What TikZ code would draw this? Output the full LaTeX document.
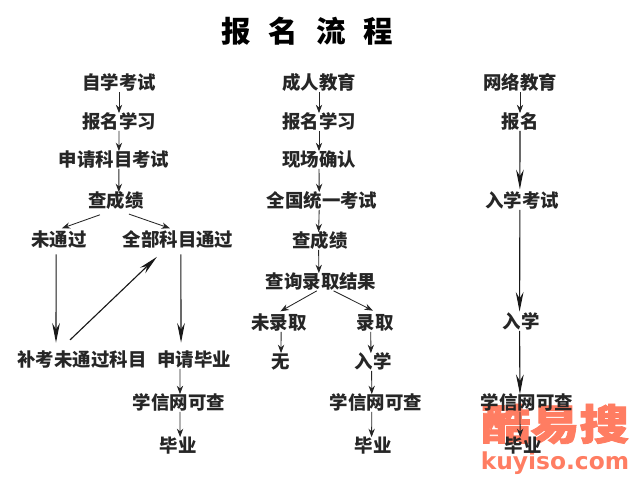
\documentclass[tikz,border=0pt]{standalone}
\usepackage{graphicx}
\usepackage{fontspec}
\newfontfamily\cjk{Noto Sans CJK SC}
\newfontfamily\wmcjk[BoldFeatures={FakeBold=2}]{Noto Sans CJK SC}
\newfontfamily\wmfont{DejaVu Sans}
\usetikzlibrary{arrows.meta}
\definecolor{saumon}{HTML}{FF7D62}
\tikzset{
	etape/.style={font=\cjk\bfseries\fontsize{13.1}{14}\selectfont,text=black!85,inner sep=0pt,text height=11pt,text depth=1.2pt,anchor=center},
	titre/.style={font=\cjk\bfseries\fontsize{21}{24}\selectfont,inner sep=0pt},
	fleche/.style={-{Stealth[length=6pt,width=4.5pt]},semithick,black!85},
	longue/.style={-{Stealth[length=14pt,width=5.5pt]},thick,black!90,shorten >=6pt},
	filigrane/.style={text=saumon,inner sep=0pt},
}
\begin{document}
\begin{tikzpicture}[x=0.025cm,y=-0.025cm]
	\useasboundingbox (0,0) rectangle (640,480);
%	Filigrane :
	\node[filigrane,font=\wmcjk\bfseries\fontsize{35}{38}\selectfont] (marque) at (555,424) {\scalebox{1}[0.85]{酷易搜}};
	\node[filigrane,anchor=base,font=\wmfont\bfseries\fontsize{16.6}{19}\selectfont] (site) at (555,469) {kuyiso.com};
%	Titre :
	\node[titre] (t1) at (236,31) {报};
	\node[titre] (t2) at (283,31) {名};
	\node[titre] (t3) at (331,31) {流};
	\node[titre] (t4) at (378,31) {程};
%	Colonne de gauche :
	\node[etape] (zixue) at (119,83) {自学考试};
	\node[etape] (baoa) at (119,122) {报名学习};
	\node[etape] (shenqing) at (114,160) {申请科目考试};
	\node[etape] (chaa) at (116,201) {查成绩};
	\node[etape] (weitongguo) at (59,240) {未通过};
	\node[etape] (quanbu) at (178,240) {全部科目通过};
	\node[etape] (bukao) at (82,360) {补考未通过科目};
	\node[etape] (biye) at (194,360) {申请毕业};
	\node[etape] (xuea) at (179,403) {学信网可查};
	\node[etape] (fina) at (178,446) {毕业};
	\draw[fleche] (zixue) -- (baoa);
	\draw[fleche] (baoa) -- ([xshift=3.5pt]shenqing.north);
	\draw[fleche] ([xshift=3.5pt]shenqing.south) -- ([xshift=2pt]chaa.north);
	\draw[fleche] ([xshift=-11.4pt,yshift=-3.5pt]chaa.south) -- ([xshift=2pt,yshift=2pt]weitongguo.north);
	\draw[fleche] ([xshift=9.2pt,yshift=-3pt]chaa.south) -- ([xshift=-5.7pt,yshift=2pt]quanbu.north);
	\draw[longue,shorten <=4pt] ([xshift=-2pt]weitongguo.south) -- ([xshift=-18.5pt]bukao.north);
	\draw[longue,shorten >=0pt] ([xshift=-8.5pt,yshift=8pt]bukao.north) -- ([xshift=-15pt,yshift=-5.7pt]quanbu.south);
	\draw[longue,shorten <=4pt] ([xshift=2pt]quanbu.south) -- ([xshift=-9.2pt]biye.north);
	\draw[fleche] ([xshift=-10pt]biye.south) -- ([xshift=0.7pt]xuea.north);
	\draw[fleche] ([xshift=0.7pt]xuea.south) -- ([xshift=1.5pt]fina.north);
%	Colonne du milieu :
	\node[etape] (chengren) at (319,83) {成人教育};
	\node[etape] (baob) at (319,122) {报名学习};
	\node[etape] (xianchang) at (319,160) {现场确认};
	\node[etape] (quanguo) at (322,201) {全国统一考试};
	\node[etape] (chab) at (320,241) {查成绩};
	\node[etape] (chaxun) at (321,282) {查询录取结果};
	\node[etape] (weilu) at (279,323) {未录取};
	\node[etape] (luqu) at (375,323) {录取};
	\node[etape] (wu) at (281,362) {无};
	\node[etape] (ruxueb) at (373,362) {入学};
	\node[etape] (xueb) at (376,403) {学信网可查};
	\node[etape] (finb) at (373,446) {毕业};
	\draw[fleche] (chengren) -- (baob);
	\draw[fleche] (baob) -- (xianchang);
	\draw[fleche] (xianchang) -- ([xshift=-2pt]quanguo.north);
	\draw[fleche] ([xshift=-2pt]quanguo.south) -- ([xshift=-1pt]chab.north);
	\draw[fleche] ([xshift=-1pt]chab.south) -- ([xshift=-1.5pt]chaxun.north);
	\draw[fleche] ([xshift=-3pt]chaxun.south) -- ([xshift=1pt,yshift=2pt]weilu.north);
	\draw[fleche] ([xshift=9pt]chaxun.south) -- ([xshift=-1.5pt,yshift=2.5pt]luqu.north);
	\draw[fleche] ([xshift=1.5pt]weilu.south) -- (wu);
	\draw[fleche] ([xshift=-3pt]luqu.south) -- ([xshift=-1.5pt]ruxueb.north);
	\draw[fleche] ([xshift=-1pt]ruxueb.south) -- ([xshift=-3pt]xueb.north);
	\draw[fleche] ([xshift=-3pt]xueb.south) -- ([xshift=-1pt]finb.north);
%	Colonne de droite :
	\node[etape] (wangluo) at (520,83) {网络教育};
	\node[etape] (baoc) at (520,122) {报名};
	\node[etape] (ruxuekao) at (522,201) {入学考试};
	\node[etape] (ruxuec) at (521,322) {入学};
	\node[etape] (xuec) at (527,403) {学信网可查};
	\node[etape] (finc) at (523,446) {毕业};
	\draw[fleche] (wangluo) -- (baoc);
	\draw[longue,shorten >=0pt] (baoc) -- ([xshift=-1.5pt,yshift=2pt]ruxuekao.north);
	\draw[longue,shorten >=0pt] ([xshift=-1.5pt]ruxuekao.south) -- ([xshift=-1pt,yshift=1pt]ruxuec.north);
	\draw[longue,shorten >=0pt] ([xshift=-1pt]ruxuec.south) -- ([xshift=-5pt]xuec.north);
	\draw[fleche] ([xshift=-5pt]xuec.south) -- ([xshift=-2pt]finc.north);
\end{tikzpicture}
\end{document}
